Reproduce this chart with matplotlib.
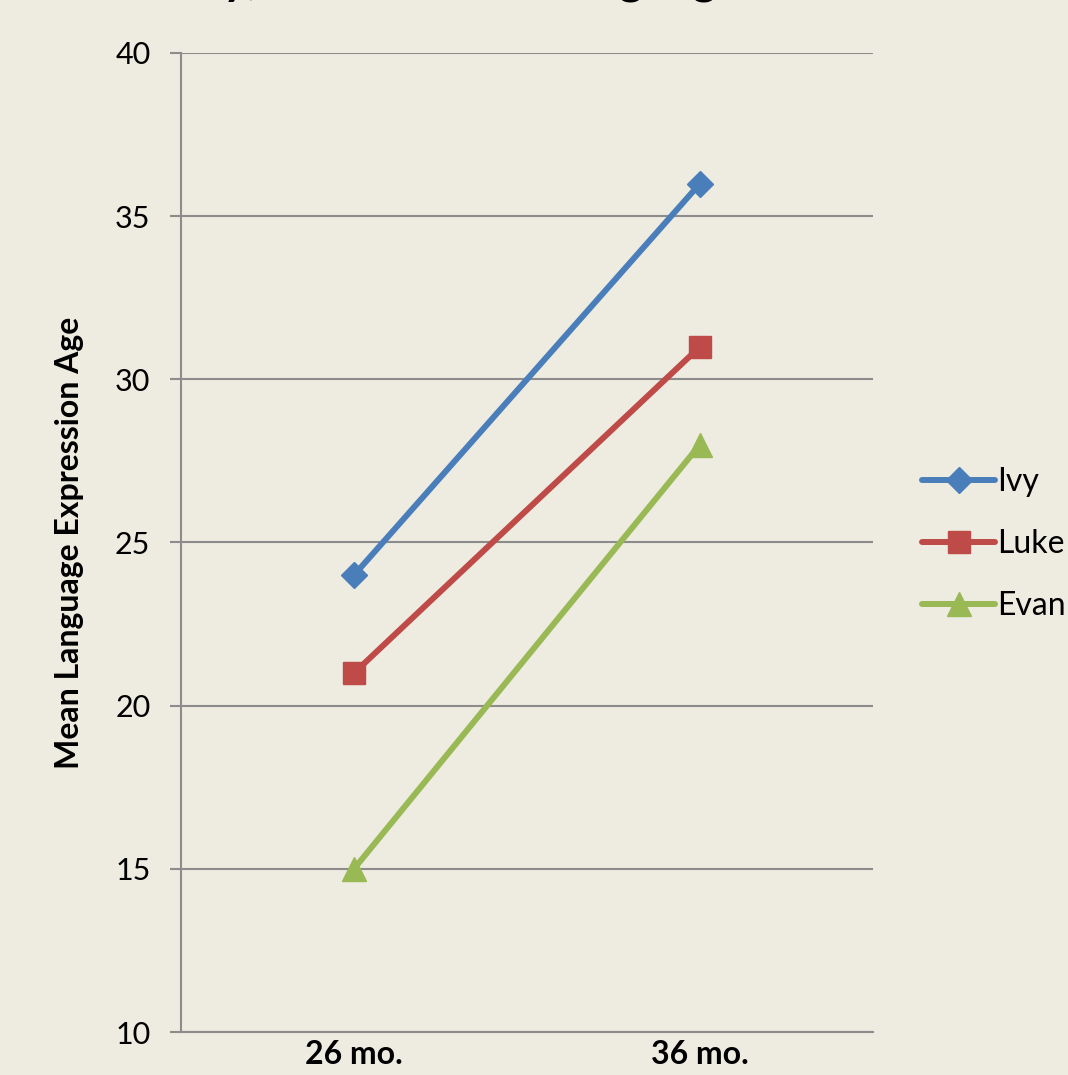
import matplotlib
matplotlib.use("Agg")
import matplotlib.pyplot as plt

plt.rcParams['font.family'] = ['Lato', 'DejaVu Sans']

categories = ["26 mo.", "36 mo."]
series_names = ["Ivy", "Luke", "Evan"]
ivy = [24, 36]
luke = [21, 31]
evan = [15, 28]
yticks = [10, 15, 20, 25, 30, 35, 40]
ylabel = "Mean Language Expression Age"
title = "Ivy, Luke & Evan: Language"

bg = "#EEEBE0"
grid_c = "#8C8C8C"
colors = ["#4A7EBB", "#BE4B48", "#98B954"]
markers = ["D", "s", "^"]
msizes = [13, 16, 17]

fig = plt.figure(figsize=(10.68, 10.75), dpi=100, facecolor=bg)
ax = fig.add_axes([181/1068, 1-1032/1075, (873-181)/1068, (1032-53)/1075])
ax.set_facecolor(bg)

x = list(range(len(categories)))
for vals, name, c, m, ms in zip([ivy, luke, evan], series_names, colors, markers, msizes):
    ax.plot(x, vals, color=c, lw=4.3, marker=m, markersize=ms,
            markerfacecolor=c, markeredgecolor=c, label=name, solid_capstyle='round', zorder=3)

ax.set_xlim(-0.5, 1.5)
ax.set_ylim(10, 40)
ax.set_yticks(yticks)
ax.set_yticklabels([str(t) for t in yticks], fontsize=22)
ax.set_xticks(x)
ax.set_xticklabels(categories, fontsize=23, fontweight='bold')
ax.tick_params(axis='x', length=0, pad=6)
ax.tick_params(axis='y', length=8, width=1.5, color=grid_c, pad=14)
ax.yaxis.grid(True, color=grid_c, lw=1.5)
ax.set_axisbelow(True)
for s in ['top', 'right']:
    ax.spines[s].set_visible(False)
for s in ['left', 'bottom']:
    ax.spines[s].set_color(grid_c)
    ax.spines[s].set_linewidth(1.5)
ax.set_ylabel(ylabel, fontsize=23, fontweight='bold', labelpad=22)

leg = fig.legend(loc='center left', bbox_to_anchor=(922/1068, 1-544/1075), frameon=False,
                 fontsize=23, handlelength=2.3, labelspacing=1.0, handletextpad=0.05,
                 borderaxespad=0, borderpad=0)

fig.text(185/1068, 1.0 + 6.5/1075, title, ha='left', va='baseline', fontsize=33, fontweight='bold')

fig.savefig("out.png", dpi=100, facecolor=bg)
